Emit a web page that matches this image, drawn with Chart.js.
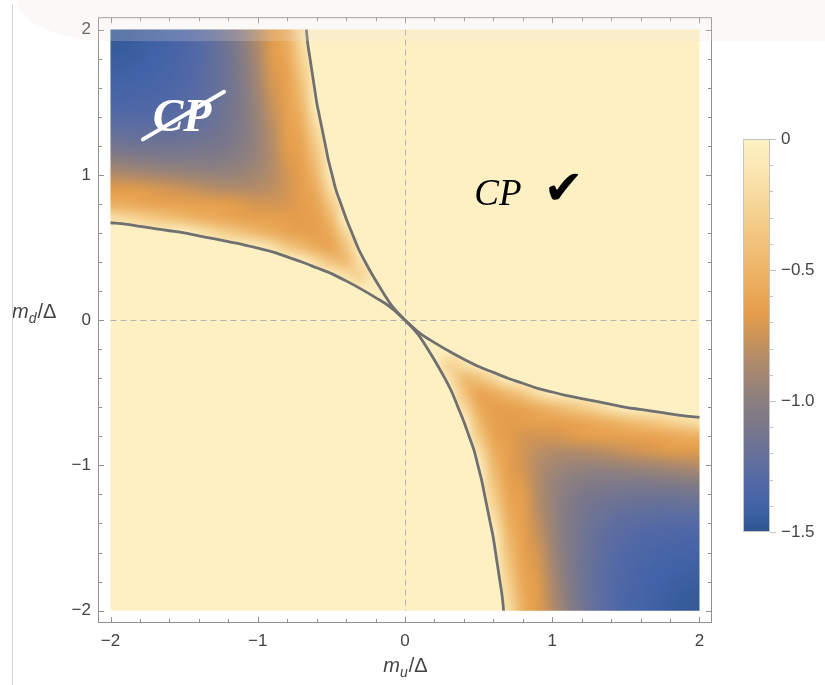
<!DOCTYPE html>
<html lang="en">
<head>
<meta charset="utf-8">
<title>CP region map</title>
<script src="https://cdn.jsdelivr.net/npm/chart.js@4.4.1/dist/chart.umd.min.js"></script>
<style>
  html, body { margin: 0; padding: 0; background: #ffffff; }
  #wrap { position: relative; width: 825px; height: 685px; overflow: hidden; }
  #chart { position: absolute; left: 0; top: 0; }
  #rule { position: absolute; left: 12px; top: 4px; width: 1px; height: 681px; background: #d6d6d6; }
  #shade { position: absolute; left: 17px; top: 0; width: 808px; height: 41px;
           background: rgba(236, 229, 218, 0.22); border-bottom-left-radius: 95px 41px; }
</style>
</head>
<body>
<div id="wrap">
  <canvas id="chart" width="825" height="685"></canvas>
  <div id="rule"></div>
  <div id="shade"></div>
</div>
<script>
// ============================================
// Axis ticks
// ============================================
const axisMin = -2.085;
const axisMax = 2.085;
const majorTicks = [-2, -1, 0, 1, 2];
const minorTicks = [-1.8, -1.6, -1.4, -1.2, -0.8, -0.6, -0.4, -0.2, 0.2, 0.4, 0.6, 0.8, 1.2, 1.4, 1.6, 1.8];

// Colour bar
const barTicks = [0, -0.5, -1.0, -1.5];
const barLabels = ['0', '\u22120.5', '\u22121.0', '\u22121.5'];
const barMinorTicks = [-0.1, -0.2, -0.3, -0.4, -0.6, -0.7, -0.8, -0.9, -1.1, -1.2, -1.3, -1.4];
const colorStops = [
    [0, '#fdf1c4'], [-0.1, '#fbe8b4'], [-0.2, '#f8dca1'], [-0.3, '#f5cf8d'],
    [-0.4, '#f1c27a'], [-0.5, '#edb467'], [-0.6, '#e9a655'], [-0.67, '#e49d4b'],
    [-0.75, '#cd9457'], [-0.85, '#af8a6a'], [-1.0, '#8b7e80'], [-1.1, '#79778b'],
    [-1.2, '#677199'], [-1.3, '#5469a5'], [-1.4, '#4263a8'], [-1.5, '#2c5590']
];

// Boundary curves (m_u/Δ, m_d/Δ)
const curveA = [
    [-2.0, 0.67], [-1.9, 0.66], [-1.8, 0.645], [-1.7, 0.63], [-1.6, 0.615], [-1.5, 0.60], [-1.4, 0.58],
    [-1.3, 0.56], [-1.2, 0.54], [-1.1, 0.52], [-1.0, 0.495], [-0.9, 0.47], [-0.8, 0.435], [-0.7, 0.40],
    [-0.6, 0.36], [-0.5, 0.32], [-0.4, 0.27], [-0.3, 0.215], [-0.2, 0.155], [-0.1, 0.09], [0, 0],
    [0.1, -0.09], [0.2, -0.155], [0.3, -0.215], [0.4, -0.27], [0.5, -0.32], [0.6, -0.36], [0.7, -0.40],
    [0.8, -0.435], [0.9, -0.47], [1.0, -0.495], [1.1, -0.52], [1.2, -0.54], [1.3, -0.56], [1.4, -0.58],
    [1.5, -0.60], [1.6, -0.615], [1.7, -0.63], [1.8, -0.645], [1.9, -0.66], [2.0, -0.67]
];
const curveB = [
    [-0.67, 2.0], [-0.66, 1.9], [-0.645, 1.8], [-0.63, 1.7], [-0.615, 1.6], [-0.60, 1.5], [-0.58, 1.4],
    [-0.56, 1.3], [-0.54, 1.2], [-0.52, 1.1], [-0.495, 1.0], [-0.47, 0.9], [-0.435, 0.8], [-0.40, 0.7],
    [-0.36, 0.6], [-0.32, 0.5], [-0.27, 0.4], [-0.215, 0.3], [-0.155, 0.2], [-0.09, 0.1], [0, 0],
    [0.09, -0.1], [0.155, -0.2], [0.215, -0.3], [0.27, -0.4], [0.32, -0.5], [0.36, -0.6], [0.40, -0.7],
    [0.435, -0.8], [0.47, -0.9], [0.495, -1.0], [0.52, -1.1], [0.54, -1.2], [0.56, -1.3], [0.58, -1.4],
    [0.60, -1.5], [0.615, -1.6], [0.63, -1.7], [0.645, -1.8], [0.66, -1.9], [0.67, -2.0]
];

// Upper-left lobe: columns m_u = -2.0 .. 0.0, rows m_d = 2.0 .. 0.0
const upperMu = [-2.0, -1.9, -1.8, -1.7, -1.6, -1.5, -1.4, -1.3, -1.2, -1.1, -1.0, -0.9, -0.8, -0.7, -0.6, -0.5, -0.4, -0.3, -0.2, -0.1, 0.0];
const upperMd = [2.0, 1.9, 1.8, 1.7, 1.6, 1.5, 1.4, 1.3, 1.2, 1.1, 1.0, 0.9, 0.8, 0.7, 0.6, 0.5, 0.4, 0.3, 0.2, 0.1, 0.0];
const upperValues = [
    [-1.47, -1.46, -1.44, -1.42, -1.39, -1.35, -1.30, -1.23, -1.13, -1.00, -0.83, -0.68, -0.54, -0.17, 0, 0, 0, 0, 0, 0, 0],
    [-1.46, -1.45, -1.43, -1.41, -1.38, -1.35, -1.30, -1.23, -1.14, -1.01, -0.85, -0.68, -0.56, -0.22, 0, 0, 0, 0, 0, 0, 0],
    [-1.44, -1.43, -1.42, -1.40, -1.38, -1.34, -1.30, -1.23, -1.15, -1.03, -0.87, -0.68, -0.59, -0.28, 0, 0, 0, 0, 0, 0, 0],
    [-1.42, -1.41, -1.40, -1.39, -1.36, -1.33, -1.29, -1.23, -1.15, -1.04, -0.89, -0.71, -0.62, -0.35, 0, 0, 0, 0, 0, 0, 0],
    [-1.39, -1.38, -1.38, -1.36, -1.34, -1.32, -1.28, -1.22, -1.15, -1.05, -0.91, -0.73, -0.63, -0.41, 0, 0, 0, 0, 0, 0, 0],
    [-1.35, -1.35, -1.34, -1.33, -1.32, -1.29, -1.26, -1.21, -1.14, -1.05, -0.93, -0.76, -0.64, -0.46, 0, 0, 0, 0, 0, 0, 0],
    [-1.30, -1.30, -1.30, -1.29, -1.28, -1.26, -1.23, -1.19, -1.13, -1.05, -0.94, -0.79, -0.65, -0.52, -0.11, 0, 0, 0, 0, 0, 0],
    [-1.23, -1.23, -1.23, -1.23, -1.22, -1.21, -1.19, -1.16, -1.11, -1.05, -0.95, -0.82, -0.65, -0.56, -0.22, 0, 0, 0, 0, 0, 0],
    [-1.13, -1.14, -1.15, -1.15, -1.15, -1.14, -1.13, -1.11, -1.08, -1.02, -0.95, -0.83, -0.67, -0.60, -0.31, 0, 0, 0, 0, 0, 0],
    [-1.00, -1.01, -1.03, -1.04, -1.05, -1.05, -1.05, -1.05, -1.02, -0.99, -0.93, -0.84, -0.70, -0.63, -0.39, 0, 0, 0, 0, 0, 0],
    [-0.83, -0.85, -0.87, -0.89, -0.91, -0.93, -0.94, -0.95, -0.95, -0.93, -0.89, -0.83, -0.73, -0.65, -0.47, -0.03, 0, 0, 0, 0, 0],
    [-0.68, -0.68, -0.68, -0.71, -0.73, -0.76, -0.79, -0.82, -0.83, -0.84, -0.83, -0.80, -0.73, -0.65, -0.54, -0.17, 0, 0, 0, 0, 0],
    [-0.54, -0.56, -0.59, -0.62, -0.63, -0.64, -0.65, -0.65, -0.67, -0.70, -0.73, -0.73, -0.72, -0.66, -0.61, -0.33, 0, 0, 0, 0, 0],
    [-0.17, -0.22, -0.28, -0.35, -0.41, -0.46, -0.52, -0.56, -0.60, -0.63, -0.65, -0.65, -0.66, -0.67, -0.64, -0.46, 0, 0, 0, 0, 0],
    [0, 0, 0, 0, 0, 0, -0.11, -0.22, -0.31, -0.39, -0.47, -0.54, -0.61, -0.64, -0.65, -0.56, -0.22, 0, 0, 0, 0],
    [0, 0, 0, 0, 0, 0, 0, 0, 0, 0, -0.03, -0.17, -0.33, -0.46, -0.56, -0.61, -0.39, 0, 0, 0, 0],
    [0, 0, 0, 0, 0, 0, 0, 0, 0, 0, 0, 0, 0, 0, -0.22, -0.39, -0.45, -0.16, 0, 0, 0],
    [0, 0, 0, 0, 0, 0, 0, 0, 0, 0, 0, 0, 0, 0, 0, 0, -0.16, -0.28, 0, 0, 0],
    [0, 0, 0, 0, 0, 0, 0, 0, 0, 0, 0, 0, 0, 0, 0, 0, 0, 0, -0.07, 0, 0],
    [0, 0, 0, 0, 0, 0, 0, 0, 0, 0, 0, 0, 0, 0, 0, 0, 0, 0, 0, 0, 0],
    [0, 0, 0, 0, 0, 0, 0, 0, 0, 0, 0, 0, 0, 0, 0, 0, 0, 0, 0, 0, 0]
];

// Lower-right lobe: columns m_u = 0.0 .. 2.0, rows m_d = 0.0 .. -2.0
const lowerMu = [0.0, 0.1, 0.2, 0.3, 0.4, 0.5, 0.6, 0.7, 0.8, 0.9, 1.0, 1.1, 1.2, 1.3, 1.4, 1.5, 1.6, 1.7, 1.8, 1.9, 2.0];
const lowerMd = [0.0, -0.1, -0.2, -0.3, -0.4, -0.5, -0.6, -0.7, -0.8, -0.9, -1.0, -1.1, -1.2, -1.3, -1.4, -1.5, -1.6, -1.7, -1.8, -1.9, -2.0];
const lowerValues = [
    [0, 0, 0, 0, 0, 0, 0, 0, 0, 0, 0, 0, 0, 0, 0, 0, 0, 0, 0, 0, 0],
    [0, 0, 0, 0, 0, 0, 0, 0, 0, 0, 0, 0, 0, 0, 0, 0, 0, 0, 0, 0, 0],
    [0, 0, -0.07, 0, 0, 0, 0, 0, 0, 0, 0, 0, 0, 0, 0, 0, 0, 0, 0, 0, 0],
    [0, 0, 0, -0.28, -0.16, 0, 0, 0, 0, 0, 0, 0, 0, 0, 0, 0, 0, 0, 0, 0, 0],
    [0, 0, 0, -0.16, -0.45, -0.39, -0.22, 0, 0, 0, 0, 0, 0, 0, 0, 0, 0, 0, 0, 0, 0],
    [0, 0, 0, 0, -0.39, -0.61, -0.56, -0.46, -0.33, -0.17, -0.03, 0, 0, 0, 0, 0, 0, 0, 0, 0, 0],
    [0, 0, 0, 0, -0.22, -0.56, -0.65, -0.64, -0.61, -0.54, -0.47, -0.39, -0.31, -0.22, -0.11, 0, 0, 0, 0, 0, 0],
    [0, 0, 0, 0, 0, -0.46, -0.64, -0.67, -0.66, -0.65, -0.65, -0.63, -0.60, -0.56, -0.52, -0.46, -0.41, -0.35, -0.28, -0.22, -0.17],
    [0, 0, 0, 0, 0, -0.33, -0.61, -0.66, -0.72, -0.73, -0.73, -0.70, -0.67, -0.65, -0.65, -0.64, -0.63, -0.62, -0.59, -0.56, -0.54],
    [0, 0, 0, 0, 0, -0.17, -0.54, -0.65, -0.73, -0.80, -0.83, -0.84, -0.83, -0.82, -0.79, -0.76, -0.73, -0.71, -0.68, -0.68, -0.68],
    [0, 0, 0, 0, 0, -0.03, -0.47, -0.65, -0.73, -0.83, -0.89, -0.93, -0.95, -0.95, -0.94, -0.93, -0.91, -0.89, -0.87, -0.85, -0.83],
    [0, 0, 0, 0, 0, 0, -0.39, -0.63, -0.70, -0.84, -0.93, -0.99, -1.02, -1.05, -1.05, -1.05, -1.05, -1.04, -1.03, -1.01, -1.00],
    [0, 0, 0, 0, 0, 0, -0.31, -0.60, -0.67, -0.83, -0.95, -1.02, -1.08, -1.11, -1.13, -1.14, -1.15, -1.15, -1.15, -1.14, -1.13],
    [0, 0, 0, 0, 0, 0, -0.22, -0.56, -0.65, -0.82, -0.95, -1.05, -1.11, -1.16, -1.19, -1.21, -1.22, -1.23, -1.23, -1.23, -1.23],
    [0, 0, 0, 0, 0, 0, -0.11, -0.52, -0.65, -0.79, -0.94, -1.05, -1.13, -1.19, -1.23, -1.26, -1.28, -1.29, -1.30, -1.30, -1.30],
    [0, 0, 0, 0, 0, 0, 0, -0.46, -0.64, -0.76, -0.93, -1.05, -1.14, -1.21, -1.26, -1.29, -1.32, -1.33, -1.34, -1.35, -1.35],
    [0, 0, 0, 0, 0, 0, 0, -0.41, -0.63, -0.73, -0.91, -1.05, -1.15, -1.22, -1.28, -1.32, -1.34, -1.36, -1.38, -1.38, -1.39],
    [0, 0, 0, 0, 0, 0, 0, -0.35, -0.62, -0.71, -0.89, -1.04, -1.15, -1.23, -1.29, -1.33, -1.36, -1.39, -1.40, -1.41, -1.42],
    [0, 0, 0, 0, 0, 0, 0, -0.28, -0.59, -0.68, -0.87, -1.03, -1.15, -1.23, -1.30, -1.34, -1.38, -1.40, -1.42, -1.43, -1.44],
    [0, 0, 0, 0, 0, 0, 0, -0.22, -0.56, -0.68, -0.85, -1.01, -1.14, -1.23, -1.30, -1.35, -1.38, -1.41, -1.43, -1.45, -1.46],
    [0, 0, 0, 0, 0, 0, 0, -0.17, -0.54, -0.68, -0.83, -1.00, -1.13, -1.23, -1.30, -1.35, -1.39, -1.42, -1.44, -1.46, -1.47]
];

// Annotations in data coordinates
const strikeLine = [[-1.78, 1.244], [-1.229, 1.572]];
const noCpAt = [-1.714, 1.30];
const cpOkAt = [0.47, 0.79];
const checkAt = [0.94, 0.80];

const FONT = '"Liberation Sans", Arial, sans-serif';
const SERIF = '"Liberation Serif", "Times New Roman", serif';
const TEXT_COLOR = '#444444';
const FRAME_COLOR = '#8f8f8f';
const CURVE_COLOR = '#707070';

function fmt(v) {
    return String(v).replace('-', '\u2212');
}

function hexToRgb(h) {
    const n = parseInt(h.slice(1), 16);
    return [(n >> 16) & 255, (n >> 8) & 255, n & 255];
}

// value -> rgb along the colour stops
function colorFor(v) {
    v = Math.max(-1.5, Math.min(0, v));
    for (let i = 0; i < colorStops.length - 1; i++) {
        const [v0, c0] = colorStops[i];
        const [v1, c1] = colorStops[i + 1];
        if (v <= v0 && v >= v1) {
            const t = (v0 - v) / (v0 - v1);
            const a = hexToRgb(c0), b = hexToRgb(c1);
            return a.map((x, k) => Math.round(x + (b[k] - x) * t));
        }
    }
    return hexToRgb(colorStops[colorStops.length - 1][1]);
}

// one pixel per cell, scaled up later through the axes
function makeCellImage(values) {
    const rows = values.length, cols = values[0].length;
    const cv = document.createElement('canvas');
    cv.width = cols;
    cv.height = rows;
    const c = cv.getContext('2d');
    const img = c.createImageData(cols, rows);
    values.forEach((row, j) => row.forEach((v, i) => {
        const [r, g, b] = colorFor(v);
        const k = (j * cols + i) * 4;
        img.data[k] = r; img.data[k + 1] = g; img.data[k + 2] = b; img.data[k + 3] = 255;
    }));
    c.putImageData(img, 0, 0);
    return cv;
}

const upperImage = makeCellImage(upperValues);
const lowerImage = makeCellImage(lowerValues);

function tracePolygon(ctx, x, y, pts) {
    ctx.beginPath();
    pts.forEach((p, i) => {
        const px = x.getPixelForValue(p[0]), py = y.getPixelForValue(p[1]);
        if (i === 0) ctx.moveTo(px, py); else ctx.lineTo(px, py);
    });
    ctx.closePath();
}

function drawCells(ctx, x, y, mus, mds, image) {
    const x0 = x.getPixelForValue(mus[0]), x1 = x.getPixelForValue(mus[mus.length - 1]);
    const y0 = y.getPixelForValue(mds[0]), y1 = y.getPixelForValue(mds[mds.length - 1]);
    const dx = (x1 - x0) / (mus.length - 1);
    const dy = (y1 - y0) / (mds.length - 1);
    ctx.imageSmoothingEnabled = true;
    ctx.imageSmoothingQuality = 'high';
    ctx.drawImage(image, x0 - dx / 2, y0 - dy / 2, dx * mus.length, dy * mds.length);
}

// Heat map, lobes and dashed zero lines
const heatmapPlugin = {
    id: 'heatmap',
    beforeDatasetsDraw(chart) {
        const { ctx, scales: { x, y } } = chart;
        ctx.save();
        // flat region (value 0)
        ctx.fillStyle = colorStops[0][1];
        const l = x.getPixelForValue(-2), r = x.getPixelForValue(2);
        const t = y.getPixelForValue(2), b = y.getPixelForValue(-2);
        ctx.fillRect(l, t, r - l, b - t);

        // upper-left lobe
        const upperPoly = [[-2, 2]].concat(curveB.filter(p => p[1] >= 0), curveA.filter(p => p[0] <= 0).reverse());
        ctx.save();
        tracePolygon(ctx, x, y, upperPoly);
        ctx.clip();
        drawCells(ctx, x, y, upperMu, upperMd, upperImage);
        ctx.restore();

        // lower-right lobe
        const lowerPoly = [[2, -2]].concat(curveB.filter(p => p[1] <= 0).reverse(), curveA.filter(p => p[0] >= 0));
        ctx.save();
        tracePolygon(ctx, x, y, lowerPoly);
        ctx.clip();
        drawCells(ctx, x, y, lowerMu, lowerMd, lowerImage);
        ctx.restore();

        // dashed zero lines
        ctx.strokeStyle = '#b3b3b3';
        ctx.lineWidth = 1;
        ctx.setLineDash([6, 4]);
        ctx.beginPath();
        ctx.moveTo(l, Math.round(y.getPixelForValue(0)) + 0.5);
        ctx.lineTo(r, Math.round(y.getPixelForValue(0)) + 0.5);
        ctx.moveTo(Math.round(x.getPixelForValue(0)) + 0.5, t);
        ctx.lineTo(Math.round(x.getPixelForValue(0)) + 0.5, b);
        ctx.stroke();
        ctx.restore();
    },
    afterDatasetsDraw(chart) {
        const { ctx, scales: { x, y } } = chart;
        ctx.save();
        // crossed-out CP
        ctx.fillStyle = '#ffffff';
        ctx.font = 'italic bold 46px ' + SERIF;
        ctx.textBaseline = 'alphabetic';
        ctx.fillText('CP', x.getPixelForValue(noCpAt[0]), y.getPixelForValue(noCpAt[1]));
        ctx.strokeStyle = '#ffffff';
        ctx.lineWidth = 4;
        ctx.lineCap = 'round';
        ctx.beginPath();
        ctx.moveTo(x.getPixelForValue(strikeLine[0][0]), y.getPixelForValue(strikeLine[0][1]));
        ctx.lineTo(x.getPixelForValue(strikeLine[1][0]), y.getPixelForValue(strikeLine[1][1]));
        ctx.stroke();

        // CP allowed
        ctx.fillStyle = '#000000';
        ctx.font = 'italic 37px ' + SERIF;
        ctx.fillText('CP', x.getPixelForValue(cpOkAt[0]), y.getPixelForValue(cpOkAt[1]));
        ctx.font = '48px "DejaVu Sans", sans-serif';
        ctx.fillText('\u2714', x.getPixelForValue(checkAt[0]), y.getPixelForValue(checkAt[1]));
        ctx.restore();
    }
};

// Frame with inward ticks, colour bar and axis titles
const framePlugin = {
    id: 'frame',
    afterDraw(chart) {
        const { ctx, chartArea: a, scales: { x, y } } = chart;
        ctx.save();
        ctx.strokeStyle = FRAME_COLOR;
        ctx.lineWidth = 1;
        ctx.strokeRect(a.left + 0.5, a.top + 0.5, a.right - a.left - 1, a.bottom - a.top - 1);

        const tick = (v, len) => {
            const px = Math.round(x.getPixelForValue(v)) + 0.5;
            const py = Math.round(y.getPixelForValue(v)) + 0.5;
            ctx.moveTo(px, a.bottom); ctx.lineTo(px, a.bottom - len);
            ctx.moveTo(px, a.top); ctx.lineTo(px, a.top + len);
            ctx.moveTo(a.left, py); ctx.lineTo(a.left + len, py);
            ctx.moveTo(a.right, py); ctx.lineTo(a.right - len, py);
        };
        ctx.beginPath();
        majorTicks.forEach(v => tick(v, 6));
        minorTicks.forEach(v => tick(v, 4));
        ctx.stroke();

        // colour bar
        const bx = 743, bw = 27, bTop = 139, bBottom = 532;
        const vy = v => bTop + (v / -1.5) * (bBottom - bTop);
        const grad = ctx.createLinearGradient(0, bTop, 0, bBottom);
        colorStops.forEach(([v, c]) => grad.addColorStop(v / -1.5, c));
        ctx.fillStyle = grad;
        ctx.fillRect(bx, bTop, bw, bBottom - bTop);
        ctx.strokeStyle = '#c4c4c4';
        ctx.strokeRect(bx + 0.5, bTop + 0.5, bw - 1, bBottom - bTop - 1);
        ctx.beginPath();
        barMinorTicks.forEach(v => { const p = Math.round(vy(v)) + 0.5; ctx.moveTo(bx + bw, p); ctx.lineTo(bx + bw + 3, p); });
        barTicks.forEach(v => { const p = Math.round(vy(v)) + 0.5; ctx.moveTo(bx + bw, p); ctx.lineTo(bx + bw + 6, p); });
        ctx.stroke();
        ctx.fillStyle = TEXT_COLOR;
        ctx.font = '17px ' + FONT;
        ctx.textAlign = 'left';
        ctx.textBaseline = 'middle';
        barTicks.forEach((v, i) => ctx.fillText(barLabels[i], 781, vy(v)));

        // axis titles
        const title = (px, py, sub, align) => {
            ctx.textBaseline = 'alphabetic';
            ctx.textAlign = 'left';
            ctx.font = 'italic 20px ' + FONT;
            const wm = ctx.measureText('m').width;
            ctx.font = 'italic 14px ' + FONT;
            const ws = ctx.measureText(sub).width;
            ctx.font = '20px ' + FONT;
            const wr = ctx.measureText('/\u0394').width;
            const sx = align === 'center' ? px - (wm + ws + wr) / 2 : px;
            ctx.font = 'italic 20px ' + FONT;
            ctx.fillText('m', sx, py);
            ctx.font = 'italic 14px ' + FONT;
            ctx.fillText(sub, sx + wm, py + 5);
            ctx.font = '20px ' + FONT;
            ctx.fillText('/\u0394', sx + wm + ws + 1, py);
        };
        title(x.getPixelForValue(0), 672, 'u', 'center');
        title(12, 318, 'd', 'left');
        ctx.restore();
    }
};

const ctx = document.getElementById('chart');

new Chart(ctx, {
    type: 'scatter',
    data: {
        datasets: [
            {
                label: 'boundary A',
                data: curveA.map(p => ({ x: p[0], y: p[1] })),
                showLine: true,
                pointRadius: 0,
                borderColor: CURVE_COLOR,
                borderWidth: 2.8,
                cubicInterpolationMode: 'monotone',
                fill: false
            },
            {
                label: 'boundary B',
                data: curveB.map(p => ({ x: p[0], y: p[1] })),
                showLine: true,
                pointRadius: 0,
                borderColor: CURVE_COLOR,
                borderWidth: 2.8,
                cubicInterpolationMode: 'monotone',
                fill: false
            }
        ]
    },
    options: {
        responsive: false,
        animation: false,
        devicePixelRatio: 1,
        layout: { autoPadding: false, padding: { left: 0, right: 113, top: 9, bottom: 0 } },
        plugins: {
            legend: { display: false },
            tooltip: { enabled: false }
        },
        scales: {
            x: {
                type: 'linear',
                min: axisMin,
                max: axisMax,
                afterBuildTicks: s => { s.ticks = majorTicks.map(v => ({ value: v })); },
                afterFit: s => { s.height = 62; },
                grid: { display: false, drawTicks: false },
                border: { display: false },
                ticks: {
                    padding: 8,
                    color: TEXT_COLOR,
                    font: { family: FONT, size: 17 },
                    maxRotation: 0,
                    autoSkip: false,
                    callback: v => fmt(v)
                }
            },
            y: {
                type: 'linear',
                min: axisMin,
                max: axisMax,
                afterBuildTicks: s => { s.ticks = majorTicks.map(v => ({ value: v })); },
                afterFit: s => { s.width = 98; },
                grid: { display: false, drawTicks: false },
                border: { display: false },
                ticks: {
                    padding: 7,
                    color: TEXT_COLOR,
                    font: { family: FONT, size: 17 },
                    autoSkip: false,
                    callback: v => fmt(v)
                }
            }
        }
    },
    plugins: [heatmapPlugin, framePlugin]
});
</script>
</body>
</html>
